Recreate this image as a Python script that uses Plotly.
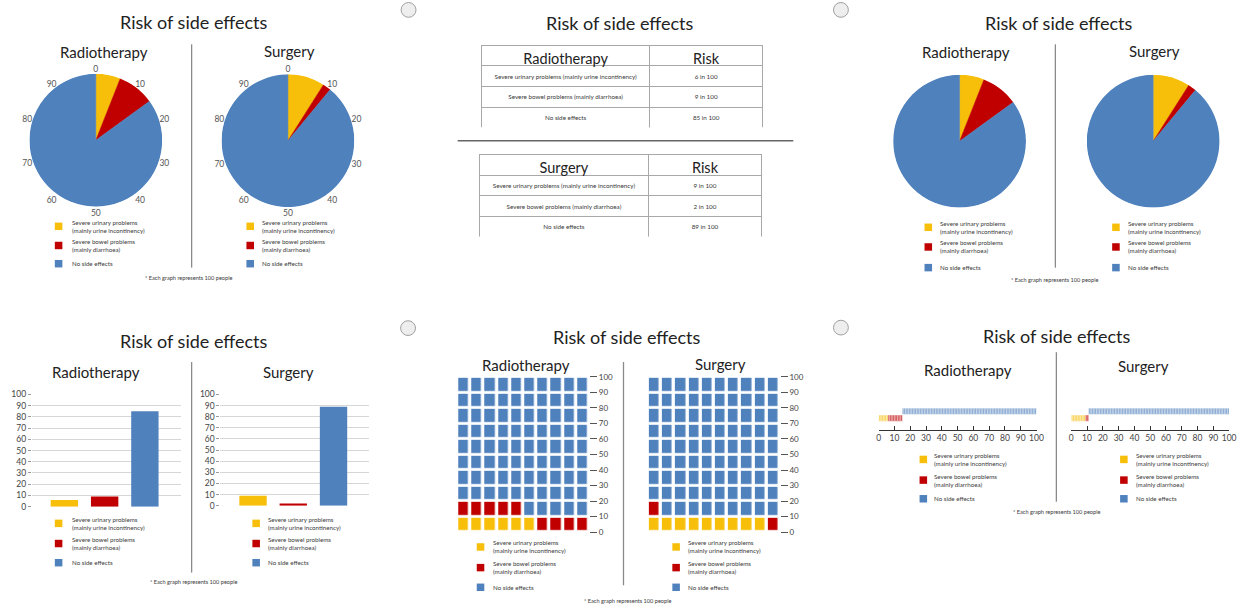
import numpy as np
import plotly.graph_objects as go

W, H = 1252, 610

# ---- data -------------------------------------------------------------
treatments = ["Radiotherapy", "Surgery"]
side_effects = [
    "Severe urinary problems (mainly urine incontinency)",
    "Severe bowel problems (mainly diarrhoea)",
    "No side effects",
]
legend_labels = [
    "Severe urinary problems<br>(mainly urine incontinency)",
    "Severe bowel problems<br>(mainly diarrhoea)",
    "No side effects",
]
radiotherapy_risk = [6, 9, 85]
surgery_risk = [9, 2, 89]
pie_tick_labels = [0, 10, 20, 30, 40, 50, 60, 70, 80, 90]
scale_ticks = [0, 10, 20, 30, 40, 50, 60, 70, 80, 90, 100]
title_text = "Risk of side effects"
footnote_text = "* Each graph represents 100 people"
risk_header = "Risk"

risk = {"Radiotherapy": radiotherapy_risk, "Surgery": surgery_risk}

# ---- style ------------------------------------------------------------
colors = ["#f7bf0a", "#c00000", "#4f81bd"]
FONT = "Lato, 'Open Sans', sans-serif"
TXT = "#222222"
SMALL = "#3a3a3a"


def px(x):
    return x / W


def py(y):
    return 1 - y / H


fig = go.Figure()
annotations = []
shapes = []


def text(x, y, s, size, color=TXT, xanchor="center", align="center"):
    annotations.append(dict(
        x=px(x), y=py(y), xref="paper", yref="paper", text=s, showarrow=False,
        xanchor=xanchor, yanchor="middle", align=align,
        font=dict(family=FONT, size=size, color=color)))


def vline(x, y0, y1, color="#8a8a8a", width=1.3):
    shapes.append(dict(type="line", xref="paper", yref="paper",
                       x0=px(x), x1=px(x), y0=py(y0), y1=py(y1),
                       line=dict(color=color, width=width)))


def legend(sq_x, txt_x, rows):
    for k, label in enumerate(legend_labels):
        s = 3.8
        shapes.append(dict(type="rect", xref="paper", yref="paper",
                           x0=px(sq_x - s), x1=px(sq_x + s),
                           y0=py(rows[k] + s), y1=py(rows[k] - s),
                           fillcolor=colors[k], line=dict(width=0)))
        text(txt_x, rows[k], label, 6.2, SMALL, xanchor="left", align="left")


def radio(cx, cy, r=7.5):
    shapes.append(dict(type="circle", xref="paper", yref="paper",
                       x0=px(cx - r), x1=px(cx + r), y0=py(cy + r), y1=py(cy - r),
                       fillcolor="#eeeeee", line=dict(color="#a0a0a0", width=1)))


# ---- pies drawn as polar bars (top-left with angular scale, top-right without)
def pie_polar(cx, cy, r, show_labels):
    return dict(
        domain=dict(x=[px(cx - r), px(cx + r)], y=[py(cy + r), py(cy - r)]),
        bgcolor="rgba(0,0,0,0)",
        radialaxis=dict(visible=False, range=[0, 1]),
        angularaxis=dict(
            rotation=90, direction="clockwise",
            tickvals=[t * 3.6 for t in pie_tick_labels],
            ticktext=[str(t) for t in pie_tick_labels],
            showgrid=False, showline=False, ticks="", ticklen=0,
            showticklabels=show_labels,
            tickfont=dict(family=FONT, size=8.5, color="#555555")),
        bargap=0, hole=0)


def add_pie(values, subplot):
    starts = np.concatenate([[0], np.cumsum(values)[:-1]])
    fig.add_trace(go.Barpolar(
        r=[1] * len(values),
        theta=[(s + v / 2) * 3.6 for s, v in zip(starts, values)],
        width=[v * 3.6 for v in values],
        marker=dict(color=colors, line=dict(color=colors, width=0.5)),
        subplot=subplot, showlegend=False, hoverinfo="skip"))


pie_specs = [
    ("polar", "Radiotherapy", 94.5, 137.5, True),
    ("polar2", "Surgery", 288, 138, True),
    ("polar3", "Radiotherapy", 964.5, 138.5, False),
    ("polar4", "Surgery", 1159.5, 138.5, False),
]
layout_extra = {}
for name, treat, cx, cy, show in pie_specs:
    add_pie(risk[treat], name)
    layout_extra[name] = pie_polar(cx, cy, 67.5, show)

# ---- tables -----------------------------------------------------------
table_specs = [("Radiotherapy", 483, 767, 41), ("Surgery", 481, 766, 152)]
for treat, x0, x1, y0 in table_specs:
    fig.add_trace(go.Table(
        domain=dict(x=[px(x0), px(x1)], y=[py(y0 + 84), py(y0)]),
        columnwidth=[170, 114],
        header=dict(values=[treat, risk_header], height=20.5,
                    fill_color="white", line_color="#a8a8a8", line_width=1,
                    align="center",
                    font=dict(family=FONT, size=14.5, color=TXT)),
        cells=dict(values=[side_effects, [f"{v} in 100" for v in risk[treat]]],
                   height=20.8, fill_color="white", line_color="#a8a8a8",
                   line_width=1, align="center",
                   font=dict(family=FONT, size=6.3, color=SMALL))))

# ---- column charts ----------------------------------------------------
bar_specs = [("x", "y", "Radiotherapy", 30, 180, 396, 510),
             ("x2", "y2", "Surgery", 220, 370, 396, 509)]
for xa, ya, treat, x0, x1, ytop, ybot in bar_specs:
    fig.add_trace(go.Bar(x=[0, 1, 2], y=risk[treat], width=0.68,
                         marker=dict(color=colors, line=dict(width=0)),
                         xaxis=xa, yaxis=ya, showlegend=False, hoverinfo="skip"))
    xk = "xaxis" + xa[1:]
    yk = "yaxis" + ya[1:]
    layout_extra[xk] = dict(domain=[px(x0), px(x1)], range=[-0.81, 2.89],
                            showticklabels=False, showgrid=False, zeroline=False,
                            ticks="", anchor=ya)
    layout_extra[yk] = dict(domain=[py(ybot), py(ytop)], range=[0, 100],
                            tickvals=scale_ticks, gridcolor="#d6d6d6",
                            gridwidth=1, ticks="outside", ticklen=3,
                            tickcolor="#9a9a9a", zeroline=False, showline=False,
                            tickfont=dict(family=FONT, size=8.5, color="#444444"),
                            anchor=xa)

# ---- waffle grids (one square per person) ------------------------------
waffle_scale = [[0, colors[0]], [1 / 3, colors[0]], [1 / 3, colors[1]],
                [2 / 3, colors[1]], [2 / 3, colors[2]], [1, colors[2]]]
waffle_specs = [("x3", "y3", "Radiotherapy", 458.5, 591.5),
                ("x4", "y4", "Surgery", 650.5, 783.5)]
for xa, ya, treat, x0, x1 in waffle_specs:
    cells = np.repeat(np.arange(3), risk[treat]).reshape(10, 10)
    fig.add_trace(go.Heatmap(z=cells, x=list(range(10)),
                             y=[5 + 10 * i for i in range(10)],
                             colorscale=waffle_scale, zmin=-0.5, zmax=2.5,
                             showscale=False, xgap=3.4, ygap=2.8,
                             xaxis=xa, yaxis=ya, hoverinfo="skip"))
    xk = "xaxis" + xa[1:]
    yk = "yaxis" + ya[1:]
    layout_extra[xk] = dict(domain=[px(x0), px(x1)], range=[-0.5, 9.5],
                            visible=False, anchor=ya)
    layout_extra[yk] = dict(domain=[py(536), py(378)], range=[0, 100],
                            side="right", tickvals=scale_ticks, ticks="outside",
                            ticklen=7, tickcolor="#555555", tickwidth=1,
                            showgrid=False, zeroline=False, showline=False,
                            tickfont=dict(family=FONT, size=8, color="#444444"),
                            anchor=xa)

# ---- unit strips (one segment per person) ------------------------------
strip_specs = [("x5", "y5", "Radiotherapy", 883, 1042),
               ("x6", "y6", "Surgery", 1077, 1236)]
for xa, ya, treat, x0, x1 in strip_specs:
    start = 0
    for k, v in enumerate(risk[treat]):
        row = 1 if k == 2 else 0
        fig.add_trace(go.Bar(orientation="h", x=np.ones(v),
                             base=start + np.arange(v), y=[row] * v, width=0.9,
                             marker=dict(color=colors[k], opacity=0.75,
                                         line=dict(color="white", width=0.4)),
                             xaxis=xa, yaxis=ya, showlegend=False,
                             hoverinfo="skip"))
        start += v
    xk = "xaxis" + xa[1:]
    yk = "yaxis" + ya[1:]
    layout_extra[xk] = dict(domain=[px(x0), px(x1)], range=[0, 100],
                            tickvals=scale_ticks, ticks="inside", ticklen=4,
                            tickcolor="#333333", showline=True,
                            linecolor="#333333", linewidth=1, showgrid=False,
                            zeroline=False,
                            tickfont=dict(family=FONT, size=8.5, color="#444444"),
                            anchor=ya)
    layout_extra[yk] = dict(domain=[py(432), py(404)], range=[-1.714, 2.29],
                            visible=False, anchor=xa)

# ---- titles, dividers, legends, notes ----------------------------------
panels = [
    # title (x, y), subtitles, divider, legends, footnote
    dict(title=(193, 17), subs=[(103, 48), (290, 47)], div=(191, 40, 267),
         leg=[(57, 68), (250, 260)], rows=[225, 244.5, 263], note=(188, 277)),
    dict(title=(1065, 18), subs=[(971, 48), (1161, 47)], div=(1061, 40, 267),
         leg=[(933, 943), (1122, 1132)], rows=[226, 246, 267], note=(1060, 279)),
    dict(title=(193, 342), subs=[(95, 373), (289, 373)], div=(191, 363, 577),
         leg=[(57, 68), (256, 266)], rows=[527, 547.5, 567], note=(193, 586)),
    dict(title=(630, 338), subs=[(528, 366), (724, 365)], div=(626, 363, 590),
         leg=[(482, 493), (679, 689)], rows=[551, 572, 592], note=(630, 605)),
    dict(title=(1063, 337), subs=[(973, 371), (1150, 367)], div=(1062, 353, 505),
         leg=[(928, 937), (1130, 1140)], rows=[462, 483, 502], note=(1062, 515)),
]
for p in panels:
    text(*p["title"], title_text, 18)
    for (sx, sy), treat in zip(p["subs"], treatments):
        text(sx, sy, treat, 15)
    vline(*p["div"])
    for sq_x, txt_x in p["leg"]:
        legend(sq_x, txt_x, p["rows"])
    text(*p["note"], footnote_text, 5.6, SMALL)

# table panel
text(622, 18, title_text, 18)
shapes.append(dict(type="line", xref="paper", yref="paper",
                   x0=px(459), x1=px(797), y0=py(138), y1=py(138),
                   line=dict(color="#666666", width=1.5)))

for cx, cy in [(409.5, 5), (845, 5), (409, 328.5), (845, 328)]:
    radio(cx, cy)

fig.update_layout(
    width=W, height=H, margin=dict(l=0, r=0, t=0, b=0),
    paper_bgcolor="white", plot_bgcolor="white", showlegend=False,
    barmode="overlay", font=dict(family=FONT, color=TXT),
    annotations=annotations, shapes=shapes, **layout_extra)

fig.write_html("out.html")
